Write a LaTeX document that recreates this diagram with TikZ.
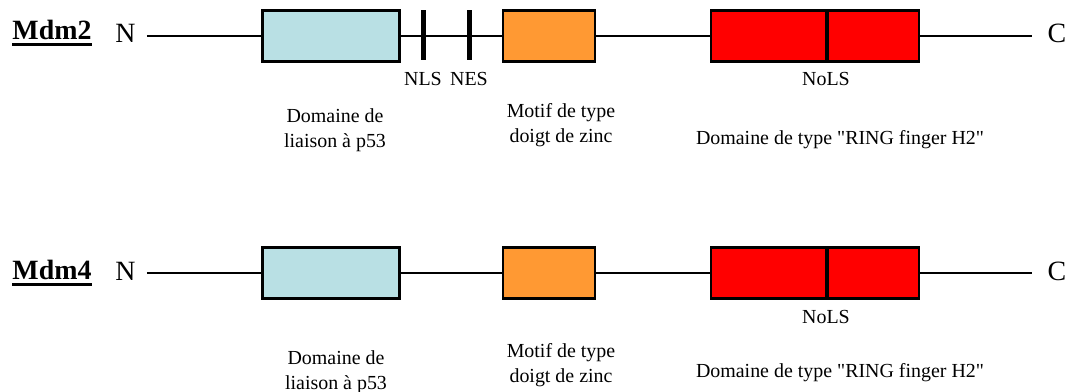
\documentclass[tikz,border=0pt]{standalone}
\usepackage{fontspec}
\setmainfont{Liberation Serif}[Ligatures=TeXOff]

\definecolor{p53blue}{RGB}{185,224,228}
\definecolor{zincorange}{RGB}{255,153,51}
\definecolor{ringred}{RGB}{255,0,0}

\begin{document}
\begin{tikzpicture}[x=0.5bp,y=-0.5bp,
  backbone/.style={line width=1bp},
  domainbox/.style={draw=black,line width=1.25bp,minimum height=25.5bp,inner sep=0pt},
  sigbar/.style={fill=black,inner sep=0pt,minimum width=2.5bp,minimum height=25bp},
  nolsbar/.style={fill=black,inner sep=0pt,minimum width=2bp,minimum height=25.5bp},
  protname/.style={font=\fontsize{14}{16}\selectfont\bfseries,inner sep=0pt,anchor=base},
  termlabel/.style={font=\fontsize{14}{16}\selectfont,inner sep=0pt,anchor=base},
  siglabel/.style={font=\fontsize{10}{12}\selectfont,inner sep=0pt,anchor=base},
  desc/.style={font=\fontsize{10}{12.75}\selectfont,align=center,inner sep=0pt,anchor=north}]
\useasboundingbox (0,0) rectangle (1069,392);

% Mdm2
\node[protname] (mdm2) at (52,40) {Mdm2};
\draw[line width=1.5bp] ([yshift=-2.5bp]mdm2.base west) -- ([yshift=-2.5bp]mdm2.base east);
\node[termlabel] (n1) at (125.5,43) {N};
\node[termlabel] (c1) at (1057,43) {C};
\node[domainbox,fill=p53blue,minimum width=68.5bp] (p53a) at (331,36) {};
\node[domainbox,fill=zincorange,minimum width=46bp] (zinca) at (549,36) {};
\node[domainbox,fill=ringred,minimum width=104bp] (ringa) at (815,36) {};
\draw[backbone] (n1.east |- p53a.west) ++(5.5bp,0) -- (p53a.west);
\draw[backbone] (p53a.east) -- (zinca.west);
\draw[backbone] (zinca.east) -- (ringa.west);
\draw[backbone] (ringa.east) -- ([xshift=-7.5bp]c1.west |- ringa.east);
\node[sigbar] (nls) at (423,35) {};
\node[sigbar] (nes) at (469,35) {};
\node[nolsbar] (nolsa) at (827,36) {};
\node[siglabel] (nlslbl) at (423,86) {NLS};
\node[siglabel] (neslbl) at (469,86) {NES};
\node[siglabel] (nolslbla) at (826,86) {NoLS};
\node[desc] (p53txta) at (335,108) {Domaine de\\liaison à p53};
\node[desc] (zinctxta) at (561,103) {Motif de type\\doigt de zinc};
\node[desc] (ringtxta) at (840,130) {Domaine de type "RING finger H2"};

% Mdm4
\node[protname] (mdm4) at (52,280) {Mdm4};
\draw[line width=1.5bp] ([yshift=-2.5bp]mdm4.base west) -- ([yshift=-2.5bp]mdm4.base east);
\node[termlabel] (n2) at (125.5,281) {N};
\node[termlabel] (c2) at (1057,281) {C};
\node[domainbox,fill=p53blue,minimum width=68.5bp] (p53b) at (331,273) {};
\node[domainbox,fill=zincorange,minimum width=46bp] (zincb) at (549,273) {};
\node[domainbox,fill=ringred,minimum width=104bp] (ringb) at (815,273) {};
\draw[backbone] (n2.east |- p53b.west) ++(5.5bp,0) -- (p53b.west);
\draw[backbone] (p53b.east) -- (zincb.west);
\draw[backbone] (zincb.east) -- (ringb.west);
\draw[backbone] (ringb.east) -- ([xshift=-7.5bp]c2.west |- ringb.east);
\node[nolsbar] (nolsb) at (827,273) {};
\node[siglabel] (nolslblb) at (826,324) {NoLS};
\node[desc] (p53txtb) at (336,350) {Domaine de\\liaison à p53};
\node[desc] (zinctxtb) at (561,343) {Motif de type\\doigt de zinc};
\node[desc] (ringtxtb) at (840,363) {Domaine de type "RING finger H2"};
\end{tikzpicture}
\end{document}
